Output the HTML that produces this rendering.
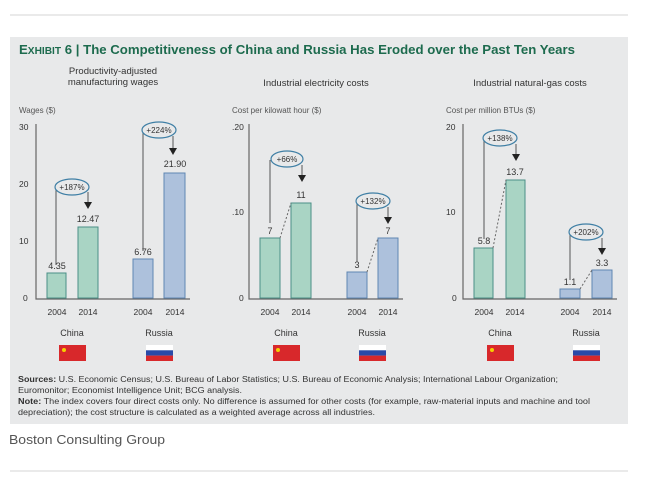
<!DOCTYPE html>
<html><head><meta charset="utf-8"><style>
body{margin:0;background:#fff;}
svg{display:block;font-family:"Liberation Sans",sans-serif;}
</style></head><body>
<svg width="648" height="484" viewBox="0 0 648 484" xmlns="http://www.w3.org/2000/svg">
<line x1="10" y1="15" x2="628" y2="15" stroke="#d6d6d6"/>
<rect x="10" y="37" width="618" height="387" fill="#e8e9ea"/>
<text x="19" y="54" font-size="13" font-weight="bold" fill="#1d6b4e" textLength="556" lengthAdjust="spacingAndGlyphs">E<tspan font-size="10">XHIBIT</tspan> 6 | The Competitiveness of China and Russia Has Eroded over the Past Ten Years</text>
<g font-size="9.5" fill="#333" text-anchor="middle">
<text x="113" y="74">Productivity-adjusted</text>
<text x="113" y="85">manufacturing wages</text>
<text x="316" y="86">Industrial electricity costs</text>
<text x="530" y="86">Industrial natural-gas costs</text>
</g>
<g font-size="8" fill="#555">
<text x="19" y="113">Wages ($)</text>
<text x="232" y="113">Cost per kilowatt hour ($)</text>
<text x="446" y="113">Cost per million BTUs ($)</text>
</g>
<g font-size="8.5" fill="#333">
<text x="19" y="130">30</text><text x="19" y="187">20</text><text x="19" y="244">10</text><text x="23" y="301">0</text>
<text x="232" y="130">.20</text><text x="232" y="215">.10</text><text x="239" y="301">0</text>
<text x="446" y="130">20</text><text x="446" y="215">10</text><text x="452" y="301">0</text>
</g>
<g stroke="#666" stroke-width="1.2" fill="none">
<path d="M36 124V299H190"/><path d="M249 124V299H403"/><path d="M463 124V299H617"/>
</g>
<g stroke-width="1">
<rect x="47" y="273" width="19" height="25" fill="#a9d4c4" stroke="#4a8f87"/>
<rect x="78" y="227" width="20" height="71" fill="#a9d4c4" stroke="#4a8f87"/>
<rect x="133" y="259" width="20" height="39" fill="#adc1dc" stroke="#5f86b3"/>
<rect x="164" y="173" width="21" height="125" fill="#adc1dc" stroke="#5f86b3"/>
<rect x="260" y="238" width="20" height="60" fill="#a9d4c4" stroke="#4a8f87"/>
<rect x="291" y="203" width="20" height="95" fill="#a9d4c4" stroke="#4a8f87"/>
<rect x="347" y="272" width="20" height="26" fill="#adc1dc" stroke="#5f86b3"/>
<rect x="378" y="238" width="20" height="60" fill="#adc1dc" stroke="#5f86b3"/>
<rect x="474" y="248" width="19" height="50" fill="#a9d4c4" stroke="#4a8f87"/>
<rect x="506" y="180" width="19" height="118" fill="#a9d4c4" stroke="#4a8f87"/>
<rect x="560" y="289" width="20" height="9" fill="#adc1dc" stroke="#5f86b3"/>
<rect x="592" y="270" width="20" height="28" fill="#adc1dc" stroke="#5f86b3"/>
</g>
<g stroke="#666" stroke-dasharray="2,2" fill="none">
<path d="M280 238L291 203"/><path d="M367 272L378 238"/><path d="M493 248L506 180"/><path d="M580 289L592 270"/>
</g>
<g font-size="9" fill="#333" text-anchor="middle">
<text x="57" y="269">4.35</text><text x="88" y="222">12.47</text>
<text x="143" y="255">6.76</text><text x="175" y="167">21.90</text>
<text x="270" y="234">7</text><text x="301" y="198">11</text>
<text x="357" y="268">3</text><text x="388" y="234">7</text>
<text x="484" y="244">5.8</text><text x="515" y="175">13.7</text>
<text x="570" y="285">1.1</text><text x="602" y="266">3.3</text>
</g>
<g stroke="#555" fill="none">
<path d="M56 187V265"/><path d="M143 130V251"/><path d="M270 160V223"/><path d="M357 201V262"/><path d="M484 138V239"/><path d="M570 232V280"/>
<path d="M88 192V204"/><path d="M173 136V150"/><path d="M302 165V177"/><path d="M388 207V219"/><path d="M516 144V156"/><path d="M602 238V250"/>
</g>
<g fill="#222">
<path d="M84 202L92 202L88 209Z"/><path d="M169 148L177 148L173 155Z"/><path d="M298 175L306 175L302 182Z"/><path d="M384 217L392 217L388 224Z"/><path d="M512 154L520 154L516 161Z"/><path d="M598 248L606 248L602 255Z"/>
</g>
<g fill="#e8e9ea" stroke="#3f7fa5" stroke-width="1.2">
<ellipse cx="72" cy="187" rx="17" ry="8"/><ellipse cx="159" cy="130" rx="17" ry="8"/>
<ellipse cx="287" cy="159" rx="16" ry="8"/><ellipse cx="373" cy="201" rx="17" ry="8"/>
<ellipse cx="500" cy="138" rx="17" ry="8"/><ellipse cx="586" cy="232" rx="17" ry="8"/>
</g>
<g font-size="8" fill="#333" text-anchor="middle">
<text x="72" y="190">+187%</text><text x="159" y="133">+224%</text>
<text x="287" y="162">+66%</text><text x="373" y="204">+132%</text>
<text x="500" y="141">+138%</text><text x="586" y="235">+202%</text>
</g>
<g font-size="8.5" fill="#333" text-anchor="middle">
<text x="57" y="315">2004</text><text x="88" y="315">2014</text><text x="143" y="315">2004</text><text x="175" y="315">2014</text>
<text x="270" y="315">2004</text><text x="301" y="315">2014</text><text x="357" y="315">2004</text><text x="388" y="315">2014</text>
<text x="484" y="315">2004</text><text x="515" y="315">2014</text><text x="570" y="315">2004</text><text x="602" y="315">2014</text>
</g>
<g font-size="9" fill="#333" text-anchor="middle">
<text x="72" y="336">China</text><text x="159" y="336">Russia</text>
<text x="286" y="336">China</text><text x="372" y="336">Russia</text>
<text x="500" y="336">China</text><text x="586" y="336">Russia</text>
</g>
<g>
<rect x="59" y="345" width="27" height="16" fill="#d8282b"/><circle cx="64" cy="350" r="2" fill="#f5d000"/>
<rect x="273" y="345" width="27" height="16" fill="#d8282b"/><circle cx="278" cy="350" r="2" fill="#f5d000"/>
<rect x="487" y="345" width="27" height="16" fill="#d8282b"/><circle cx="492" cy="350" r="2" fill="#f5d000"/>
<g><rect x="146" y="345" width="27" height="5.3" fill="#fff"/><rect x="146" y="350.3" width="27" height="5.3" fill="#2a4aa8"/><rect x="146" y="355.6" width="27" height="5.4" fill="#d8282b"/></g>
<g><rect x="359" y="345" width="27" height="5.3" fill="#fff"/><rect x="359" y="350.3" width="27" height="5.3" fill="#2a4aa8"/><rect x="359" y="355.6" width="27" height="5.4" fill="#d8282b"/></g>
<g><rect x="573" y="345" width="27" height="5.3" fill="#fff"/><rect x="573" y="350.3" width="27" height="5.3" fill="#2a4aa8"/><rect x="573" y="355.6" width="27" height="5.4" fill="#d8282b"/></g>
</g>
<g font-size="8" fill="#333" lengthAdjust="spacingAndGlyphs">
<text x="18" y="382" textLength="540" lengthAdjust="spacingAndGlyphs"><tspan font-weight="bold">Sources:</tspan> U.S. Economic Census; U.S. Bureau of Labor Statistics; U.S. Bureau of Economic Analysis; International Labour Organization;</text>
<text x="18" y="393" textLength="224" lengthAdjust="spacingAndGlyphs">Euromonitor; Economist Intelligence Unit; BCG analysis.</text>
<text x="18" y="404" textLength="572" lengthAdjust="spacingAndGlyphs"><tspan font-weight="bold">Note:</tspan> The index covers four direct costs only. No difference is assumed for other costs (for example, raw-material inputs and machine and tool</text>
<text x="18" y="415" textLength="357" lengthAdjust="spacingAndGlyphs">depreciation); the cost structure is calculated as a weighted average across all industries.</text>
</g>
<text x="9" y="444" font-size="12.5" fill="#555" textLength="156" lengthAdjust="spacingAndGlyphs">Boston Consulting Group</text>
<line x1="10" y1="471" x2="628" y2="471" stroke="#d6d6d6"/>
</svg>
</body></html>
